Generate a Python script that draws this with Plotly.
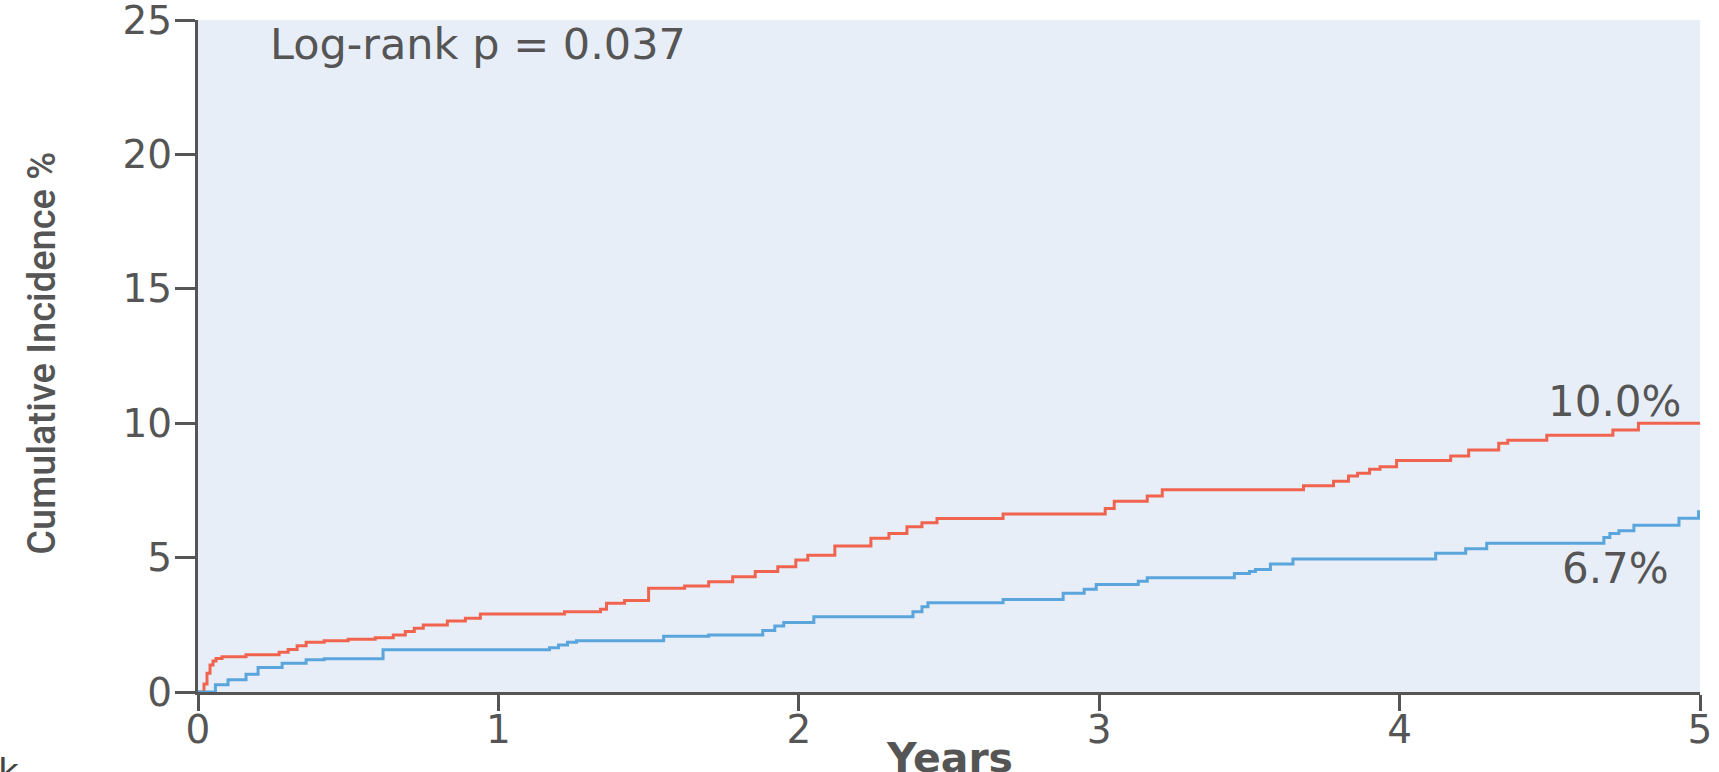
import plotly.graph_objects as go

# ---- data ----
red_years = [0, 0.02, 0.03, 0.04, 0.05, 0.06, 0.08, 0.16, 0.27, 0.30, 0.33, 0.36, 0.42, 0.50,
             0.59, 0.65, 0.69, 0.72, 0.75, 0.83, 0.89, 0.94, 1.22, 1.34, 1.36, 1.42, 1.50,
             1.62, 1.70, 1.78, 1.855, 1.93, 1.99, 2.03, 2.12, 2.24, 2.30, 2.36, 2.41, 2.46,
             2.68, 3.02, 3.05, 3.16, 3.21, 3.68, 3.78, 3.83, 3.86, 3.90, 3.935, 3.99, 4.17,
             4.23, 4.33, 4.36, 4.49, 4.71, 4.795, 5.0]
red_inc = [0, 0.3, 0.7, 1.0, 1.15, 1.25, 1.31, 1.39, 1.48, 1.58, 1.72, 1.85, 1.91, 1.96,
           2.02, 2.12, 2.25, 2.37, 2.49, 2.64, 2.74, 2.90, 2.99, 3.08, 3.30, 3.40, 3.86,
           3.94, 4.10, 4.29, 4.48, 4.66, 4.91, 5.09, 5.43, 5.72, 5.90, 6.15, 6.30, 6.45,
           6.62, 6.83, 7.10, 7.29, 7.52, 7.67, 7.84, 8.04, 8.14, 8.29, 8.38, 8.61, 8.78,
           9.00, 9.25, 9.37, 9.55, 9.75, 10.0, 10.0]

blue_years = [0, 0.058, 0.10, 0.16, 0.20, 0.28, 0.36, 0.42, 0.616, 1.17, 1.20, 1.23, 1.26,
              1.55, 1.70, 1.88, 1.92, 1.95, 2.05, 2.38, 2.41, 2.43, 2.68, 2.88, 2.95, 2.99,
              3.13, 3.16, 3.45, 3.50, 3.52, 3.57, 3.645, 4.12, 4.22, 4.29, 4.68, 4.70, 4.73,
              4.78, 4.93, 4.995, 5.0]
blue_inc = [0, 0.27, 0.46, 0.66, 0.91, 1.07, 1.20, 1.24, 1.57, 1.65, 1.75, 1.85, 1.91,
            2.07, 2.12, 2.29, 2.46, 2.59, 2.80, 2.99, 3.17, 3.32, 3.44, 3.67, 3.82, 4.00,
            4.12, 4.25, 4.41, 4.48, 4.56, 4.76, 4.95, 5.16, 5.33, 5.53, 5.75, 5.90, 6.00,
            6.20, 6.46, 6.71, 6.71]

x_ticks = [0, 1, 2, 3, 4, 5]
y_ticks = [0, 5, 10, 15, 20, 25]
end_labels = ["10.0%", "6.7%"]
p_text = "Log-rank p = 0.037"

RED = "#F0644F"
BLUE = "#5AA5DC"
GREY = "#555555"
FONT = "DejaVu Sans"

fig = go.Figure()
fig.add_trace(go.Scatter(x=red_years, y=red_inc, mode="lines", line=dict(color=RED, width=3, shape="hv"),
                         showlegend=False, hoverinfo="skip"))
fig.add_trace(go.Scatter(x=blue_years, y=blue_inc, mode="lines", line=dict(color=BLUE, width=3, shape="hv"),
                         showlegend=False, hoverinfo="skip"))

axis_common = dict(showline=True, linecolor=GREY, linewidth=3, ticks="outside",
                   tickwidth=3, tickcolor=GREY, showgrid=False, zeroline=False,
                   ticklabeloverflow="allow", automargin=False,
                   tickfont=dict(family=FONT, size=39, color=GREY))

fig.update_layout(
    width=1719, height=772,
    margin=dict(l=198, r=19, t=20, b=80, autoexpand=False),
    paper_bgcolor="white", plot_bgcolor="#E8EEF8",
    xaxis=dict(range=[0, 5], tickvals=x_ticks, ticktext=[str(v) for v in x_ticks],
               ticklen=16, ticklabelstandoff=-15, **axis_common),
    yaxis=dict(range=[0, 25], tickvals=y_ticks, ticktext=[str(v) for v in y_ticks],
               ticklen=20, ticklabelstandoff=-5, **axis_common),
)

fig.add_annotation(x=0.233, y=24.1, xref="x", yref="y", text=p_text, showarrow=False,
                   xanchor="left", yanchor="middle", font=dict(family=FONT, size=43, color=GREY))
fig.add_annotation(x=4.717, y=10.79, xref="x", yref="y", text=end_labels[0], showarrow=False,
                   xanchor="center", yanchor="middle", font=dict(family=FONT, size=42, color=GREY))
fig.add_annotation(x=4.72, y=4.61, xref="x", yref="y", text=end_labels[1], showarrow=False,
                   xanchor="center", yanchor="middle", font=dict(family=FONT, size=42, color=GREY))

# axis titles
fig.add_annotation(x=-0.104, y=0.5045, xref="paper", yref="paper", text="Cumulative Incidence %",
                   showarrow=False, textangle=-90, xanchor="center", yanchor="middle",
                   font=dict(family="Roboto", size=38, color=GREY, weight=500))
fig.add_annotation(x=0.5, y=-0.098, xref="paper", yref="paper", text="<b>Years</b>",
                   showarrow=False, xanchor="center", yanchor="middle",
                   font=dict(family=FONT, size=41, color=GREY))
# cropped fragment at bottom-left
fig.add_annotation(x=-0.1318, y=-0.0848, xref="paper", yref="paper", text="k", xshift=-4,
                   showarrow=False, xanchor="left", yanchor="top",
                   font=dict(family=FONT, size=36, color="#444444"))

fig.write_html("out.html", config={"displayModeBar": False},
               post_script="document.body.style.margin='0px';")
